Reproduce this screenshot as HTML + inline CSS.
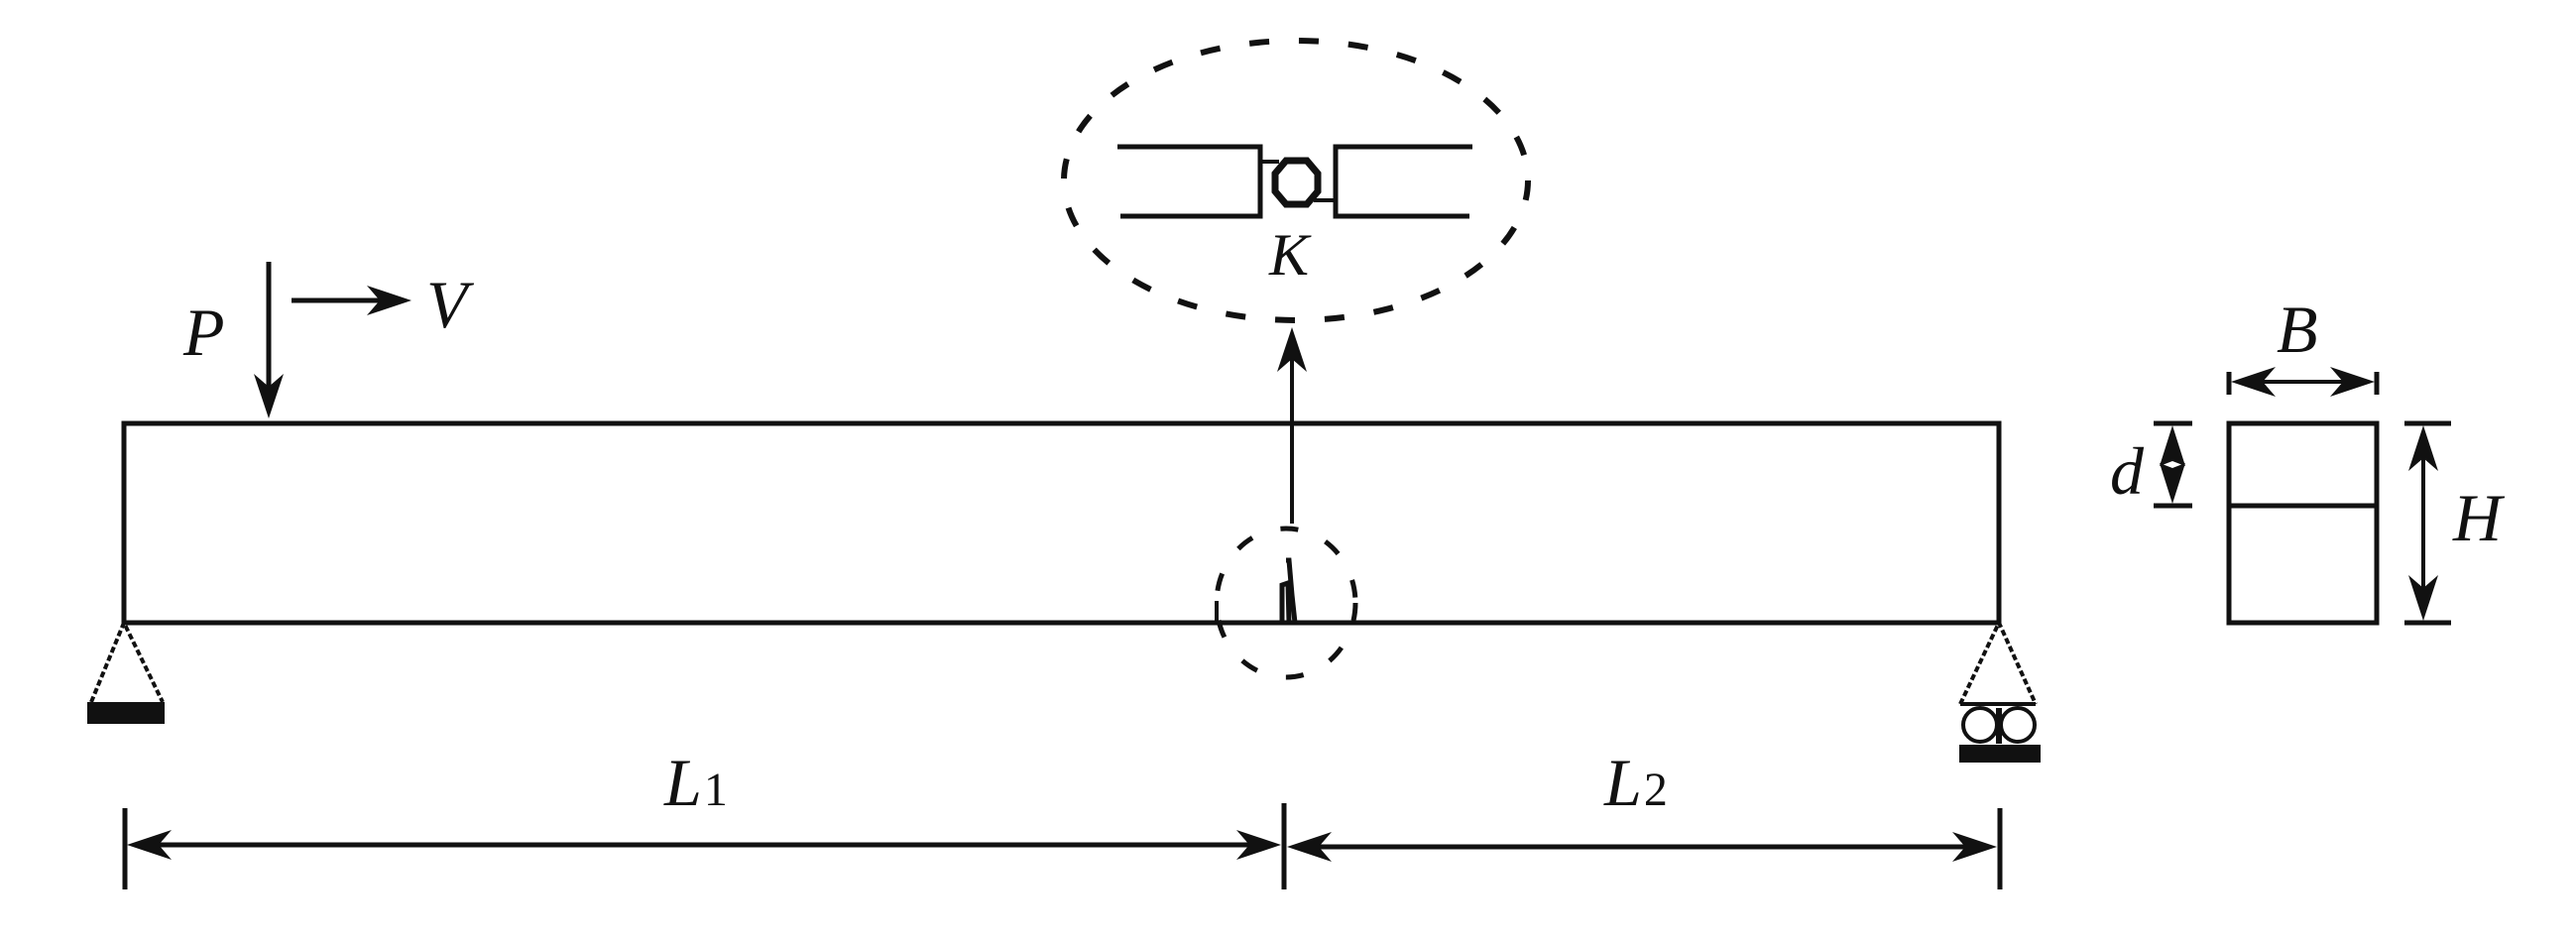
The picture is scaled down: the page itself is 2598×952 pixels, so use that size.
<!DOCTYPE html>
<html><head><meta charset="utf-8"><style>
html,body{margin:0;padding:0;background:#fff;}
svg{display:block;}
</style></head><body>
<svg width="2598" height="952" viewBox="0 0 2598 952" xmlns="http://www.w3.org/2000/svg">
<g stroke="#111" fill="none" stroke-width="5">
  <rect x="125" y="427" width="1891" height="201"/>
  <line x1="271" y1="264" x2="271" y2="400"/>
  <line x1="294" y1="303" x2="390" y2="303"/>
  <line x1="1303" y1="360" x2="1303" y2="528" stroke-width="4"/>
  <ellipse cx="1307" cy="182" rx="234" ry="141" stroke-width="6" stroke-dasharray="20 30"/>
  <polyline points="1127,148 1271,148 1271,218 1130,218"/>
  <polyline points="1485,148 1347,148 1347,218 1482,218"/>
  <polygon points="1297,162 1318,162 1329,175 1329,193 1318,206 1297,206 1286,193 1286,175" stroke-width="7"/>
  <line x1="1271" y1="163" x2="1290" y2="163" stroke-width="4"/>
  <line x1="1325" y1="202" x2="1347" y2="202" stroke-width="4"/>
  <ellipse cx="1297" cy="608" rx="70" ry="75" stroke-width="5" stroke-dasharray="18 30"/>
  <line x1="1227" y1="606" x2="1227" y2="628" stroke-width="4"/>
  <path d="M1293 628 L1293 590 L1299 588 L1300 628 M1297 565 L1300 565 L1303 600 L1306 628" stroke-width="5"/>
  <polyline points="92,708 125,628 164,708" stroke-width="4" stroke-dasharray="6 3"/>
  <polyline points="1977,710 2016,628 2053,710" stroke-width="4" stroke-dasharray="6 3"/>
  <line x1="1977" y1="710" x2="2053" y2="710" stroke-width="4"/>
  <circle cx="1997" cy="731" r="17" stroke-width="4"/>
  <circle cx="2035" cy="731" r="17" stroke-width="4"/>
  <line x1="2016" y1="714" x2="2016" y2="750" stroke-width="6"/>
  <line x1="126" y1="815" x2="126" y2="897"/>
  <line x1="1295" y1="810" x2="1295" y2="897"/>
  <line x1="2017" y1="815" x2="2017" y2="897"/>
  <line x1="160" y1="852" x2="1260" y2="852"/>
  <line x1="1330" y1="854" x2="1985" y2="854"/>
  <rect x="2248" y="427" width="149" height="201"/>
  <line x1="2248" y1="510" x2="2397" y2="510"/>
  <line x1="2248" y1="375" x2="2248" y2="398"/>
  <line x1="2397" y1="375" x2="2397" y2="398"/>
  <line x1="2270" y1="385" x2="2375" y2="385" stroke-width="4"/>
  <line x1="2172" y1="427" x2="2211" y2="427"/>
  <line x1="2172" y1="510" x2="2211" y2="510"/>
  <line x1="2425" y1="427" x2="2472" y2="427"/>
  <line x1="2425" y1="628" x2="2472" y2="628"/>
  <line x1="2444" y1="440" x2="2444" y2="615" stroke-width="4"/>
</g>
<g fill="#111" stroke="none">
  <path d="M271 422 L256 377 L271 390 L286 377 Z"/>
  <path d="M415 303 L370 288 L383 303 L370 318 Z"/>
  <path d="M1303 330 L1288 375 L1303 362 L1318 375 Z"/>
  <rect x="88" y="708" width="78" height="22"/>
  <rect x="1976" y="751" width="82" height="18"/>
  <path d="M128 852 L173 837 L160 852 L173 867 Z"/>
  <path d="M1292 852 L1247 837 L1260 852 L1247 867 Z"/>
  <path d="M1298 854 L1343 839 L1330 854 L1343 869 Z"/>
  <path d="M2014 854 L1969 839 L1982 854 L1969 869 Z"/>
  <path d="M2250 385 L2295 370 L2282 385 L2295 400 Z"/>
  <path d="M2395 385 L2350 370 L2363 385 L2350 400 Z"/>
  <path d="M2191 429 L2178 470 L2191 465 L2204 470 Z"/>
  <path d="M2191 508 L2178 467 L2191 472 L2204 467 Z"/>
  <path d="M2444 429 L2429 475 L2444 462 L2459 475 Z"/>
  <path d="M2444 626 L2429 580 L2444 593 L2459 580 Z"/>
</g>
<g font-size="68" font-family="'Liberation Serif', 'DejaVu Serif', serif" font-style="italic" fill="#111">
  <text x="185" y="358">P</text>
  <text x="430" y="330">V</text>
  <text x="1280" y="277" font-size="60">K</text>
  <text x="2296" y="355">B</text>
  <text x="2128" y="498">d</text>
  <text x="2474" y="545">H</text>
  <text x="670" y="812">L<tspan font-style="normal" font-size="48" dx="2">1</tspan></text>
  <text x="1618" y="812">L<tspan font-style="normal" font-size="48" dx="2">2</tspan></text>
</g>
</svg>
</body></html>
